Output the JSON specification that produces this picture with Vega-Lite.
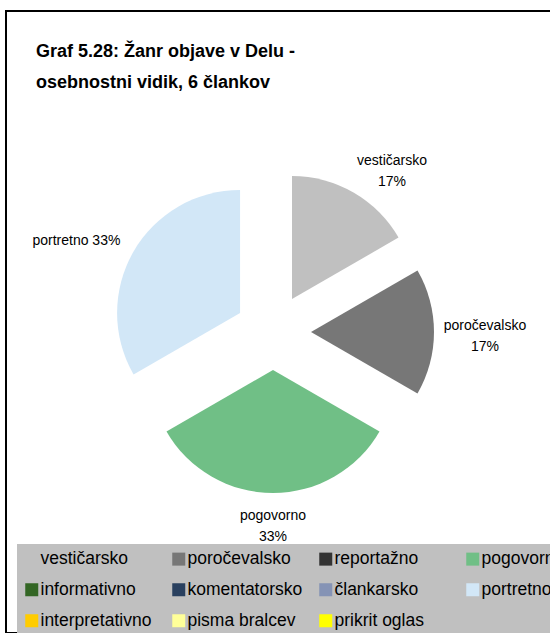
{
  "$schema": "https://vega.github.io/schema/vega-lite/v6.json",
  "autosize": {"type": "none"},
  "padding": {"left": 6, "top": 11, "right": -2, "bottom": 0},
  "width": 546,
  "height": 622,
  "background": "white",
  "view": {"stroke": "black", "strokeWidth": 2, "fill": "white"},
  "title": {
    "text": ["Graf 5.28: Žanr objave v Delu  -", "osebnostni vidik, 6 člankov"],
    "anchor": "start",
    "frame": "group",
    "orient": "top",
    "offset": 0,
    "dx": 30,
    "dy": 95,
    "baseline": "alphabetic",
    "font": "Liberation Sans",
    "fontSize": 18,
    "fontWeight": "bold",
    "color": "black",
    "lineHeight": 31
  },
  "data": {
    "values": [
      {"zvrst": "vestičarsko", "n": 1, "order": 1},
      {"zvrst": "poročevalsko", "n": 1, "order": 2},
      {"zvrst": "reportažno", "n": 0, "order": 3},
      {"zvrst": "pogovorno", "n": 2, "order": 4},
      {"zvrst": "informativno", "n": 0, "order": 5},
      {"zvrst": "komentatorsko", "n": 0, "order": 6},
      {"zvrst": "člankarsko", "n": 0, "order": 7},
      {"zvrst": "portretno", "n": 2, "order": 8},
      {"zvrst": "interpretativno", "n": 0, "order": 9},
      {"zvrst": "pisma bralcev", "n": 0, "order": 10},
      {"zvrst": "prikrit oglas", "n": 0, "order": 11}
    ]
  },
  "encoding": {
    "theta": {"field": "n", "type": "quantitative", "stack": true},
    "order": {"field": "order", "type": "quantitative"}
  },
  "layer": [
    {
      "mark": {
        "type": "arc",
        "radius": 123,
        "x": 267,
        "y": 321,
        "strokeWidth": 0,
        "xOffset": {"expr": "38*sin(scale('theta',(datum.n_start+datum.n_end)/2))"},
        "yOffset": {"expr": "-38*cos(scale('theta',(datum.n_start+datum.n_end)/2))"}
      },
      "encoding": {
        "color": {
          "field": "zvrst",
          "type": "nominal",
          "sort": null,
          "scale": {
            "domain": ["vestičarsko", "poročevalsko", "reportažno", "pogovorno", "informativno", "komentatorsko", "člankarsko", "portretno", "interpretativno", "pisma bralcev", "prikrit oglas"],
            "range": ["#C0C0C0", "#777777", "#333333", "#70BF86", "#336624", "#29405F", "#8593B5", "#D2E7F7", "#FFCC00", "#FFFF99", "#FFFF00"]
          },
          "legend": {
            "title": null,
            "orient": "none",
            "direction": "horizontal",
            "legendX": 11,
            "legendY": 533,
            "columns": 4,
            "gridAlign": "all",
            "columnPadding": 14,
            "rowPadding": 12,
            "padding": 6,
            "fillColor": "#C0C0C0",
            "symbolType": "square",
            "symbolSize": 169,
            "symbolStrokeWidth": 0,
            "symbolOpacity": 1,
            "labelOffset": 0,
            "labelFont": "Liberation Sans",
            "labelFontSize": 17.5,
            "labelColor": "black",
            "labelLimit": 200
          }
        }
      }
    },
    {
      "transform": [
        {"joinaggregate": [{"op": "sum", "field": "n", "as": "total"}]},
        {"filter": "datum.n > 0"},
        {"calculate": "datum.zvrst + (datum.zvrst == 'portretno' ? ' ' : '\\n') + format(datum.n / datum.total, '.0%')", "as": "label"}
      ],
      "mark": {
        "type": "text",
        "radius": 194,
        "x": 267,
        "y": 321,
        "dx": {"expr": "18*sin(scale('theta',(datum.n_start+datum.n_end)/2)) + 15*sin(2*scale('theta',(datum.n_start+datum.n_end)/2))"},
        "dy": {"expr": "(indexof(datum.label, '\\n') >= 0 ? -10.5 : 0) + 4*(1 + cos(scale('theta',(datum.n_start+datum.n_end)/2)))"},
        "align": "center",
        "baseline": "middle",
        "lineBreak": "\n",
        "lineHeight": 21,
        "font": "Liberation Sans",
        "fontSize": 14,
        "color": "black"
      },
      "encoding": {
        "text": {"field": "label", "type": "nominal"}
      }
    }
  ]
}
